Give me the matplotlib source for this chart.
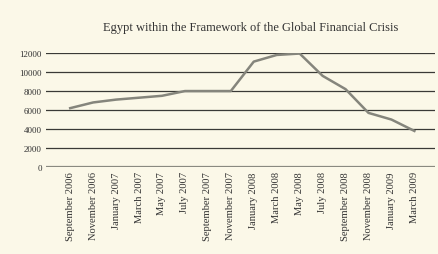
import matplotlib
matplotlib.use("Agg")
import matplotlib.pyplot as plt

months = ["September 2006", "November 2006", "January 2007", "March 2007",
          "May 2007", "July 2007", "September 2007", "November 2007",
          "January 2008", "March 2008", "May 2008", "July 2008",
          "September 2008", "November 2008", "January 2009", "March 2009"]
values = [6200, 6800, 7100, 7300, 7500, 8000, 8000, 8000,
          11100, 11800, 11950, 9600, 8200, 5700, 5000, 3800]
yticks = [0, 2000, 4000, 6000, 8000, 10000, 12000]

bg = "#fbf8e8"
plt.rcParams["font.family"] = ["Liberation Serif", "DejaVu Serif"]

fig = plt.figure(figsize=(4.39, 2.55), dpi=100, facecolor=bg)
ax = fig.add_axes([0.105, 0.341, 0.886, 0.447], facecolor=bg)

x = list(range(len(months)))
for y in yticks[1:]:
    ax.axhline(y, color="#3a3a36", lw=0.9, zorder=1)
ax.axhline(0, color="#8a8a80", lw=1.6, zorder=1)
ax.plot(x, values, color="#85857c", lw=1.8, zorder=3)

ax.set_xlim(-1.05, 15.9)
ax.set_ylim(0, 12000)
ax.set_xticks(x)
ax.set_xticklabels(months, rotation=90, fontsize=7.6, color="#333333")
ax.set_yticks(yticks)
ax.set_yticklabels([str(v) for v in yticks], fontsize=6.5, color="#333333")
ax.tick_params(length=0, pad=3)
for s in ax.spines.values():
    s.set_visible(False)

fig.text(0.57, 0.89, "Egypt within the Framework of the Global Financial Crisis",
         ha="center", va="center", fontsize=9, color="#333333")

fig.savefig("out.png", dpi=100, facecolor=bg)
